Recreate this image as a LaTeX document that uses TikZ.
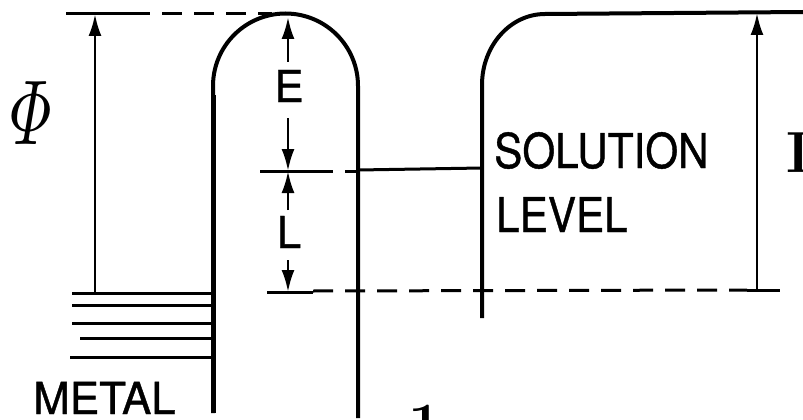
\documentclass[tikz,border=0pt]{standalone}
\usepackage{amsmath}
\usepackage{fontspec}
\newfontfamily\letterfont{TeX Gyre Heros}[FakeBold=0.9]
\usetikzlibrary{arrows.meta}
\tikzset{
  wall/.style={line width=4pt},
  dimarrow/.style={line width=2.8pt, -{Latex[length=22pt,width=13pt]}},
  guide/.style={line width=3pt, dash pattern=on 20pt off 12pt},
  thinline/.style={line width=3pt},
  lbl/.style={font=\letterfont\fontsize{44}{44}\selectfont, inner sep=0pt},
  biglbl/.style={font=\letterfont\fontsize{48}{48}\selectfont, inner sep=0pt},
}

\begin{document}
\begin{tikzpicture}[x=1pt,y=-1pt]
  \useasboundingbox (0,0) rectangle (803,420);
  \clip (0,0) rectangle (803,420);

  % reference points
  \coordinate (phitop) at (95,14);
  \coordinate (phibot) at (95,293);
  \coordinate (archtop) at (288,17);
  \coordinate (sol) at (288,171);
  \coordinate (lowlev) at (288,292);
  \coordinate (rtop) at (757,13);
  \coordinate (rbot) at (757,290);

  % barrier (left)
  \draw[wall] (213,413) -- (213,86) arc[start angle=180, end angle=360, radius=72.5] -- (358,418);
  \draw[line width=5pt] (213,413) -- (213,95);

  % solution block (right)
  \draw[wall] (482,318) -- (482,85) arc[start angle=180, end angle=270, x radius=63, y radius=71] -- (803,12);

  % solution level
  \draw[thinline] (358,170) -- (482,168);

  % metal levels
  \foreach \xs/\yy in {72/293, 72/305, 72/323, 80/338, 70/357}
    \draw[thinline] (\xs,\yy) -- (213,\yy);

  % top guide line
  \draw[thinline] (66,14) -- (130,14);
  \draw[guide] (130,14) -- (272,14);

  % guides at solution and lower level
  \draw[thinline] (260,171) -- (313,171);
  \draw[guide] (313,171) -- (358,171);
  \draw[thinline] (267,292) -- (313,292);
  \draw[guide] (313,291) -- (747,290);
  \draw[thinline] (747,290) -- (780,290);

  % phi
  \draw[dimarrow] (phibot) -- (phitop);
  \node (phi) at (31,113) {\scalebox{6.2}[9.2]{$\varPhi$}};

  % E and L
  \node[lbl] (E) at (289,86) {E};
  \draw[dimarrow] (288,62) -- (archtop);
  \draw[dimarrow] (288,118) -- (sol);
  \node[lbl] (L) at (289,232) {L};
  \draw[dimarrow] (288,210) -- (sol);
  \draw[dimarrow] (288,260) -- (lowlev);

  % right height
  \draw[dimarrow] (rbot) -- (rtop);

  % labels
  \node[biglbl, anchor=base west] (solution) at (494,168) {\scalebox{0.88}[1]{SOLUTION}};
  \node[biglbl, anchor=base west] (level) at (496,232) {\scalebox{0.88}[1]{LEVEL}};
  \node[lbl, anchor=base west] (metal) at (33,414) {METAL};
  \node[anchor=base west, inner sep=0pt] (ion) at (786,172) {\fontsize{58}{58}\selectfont\bfseries I};
  \node[anchor=base west, inner sep=0pt] (fig) at (408,444) {\fontsize{60}{60}\selectfont\bfseries 1};
\end{tikzpicture}
\end{document}
